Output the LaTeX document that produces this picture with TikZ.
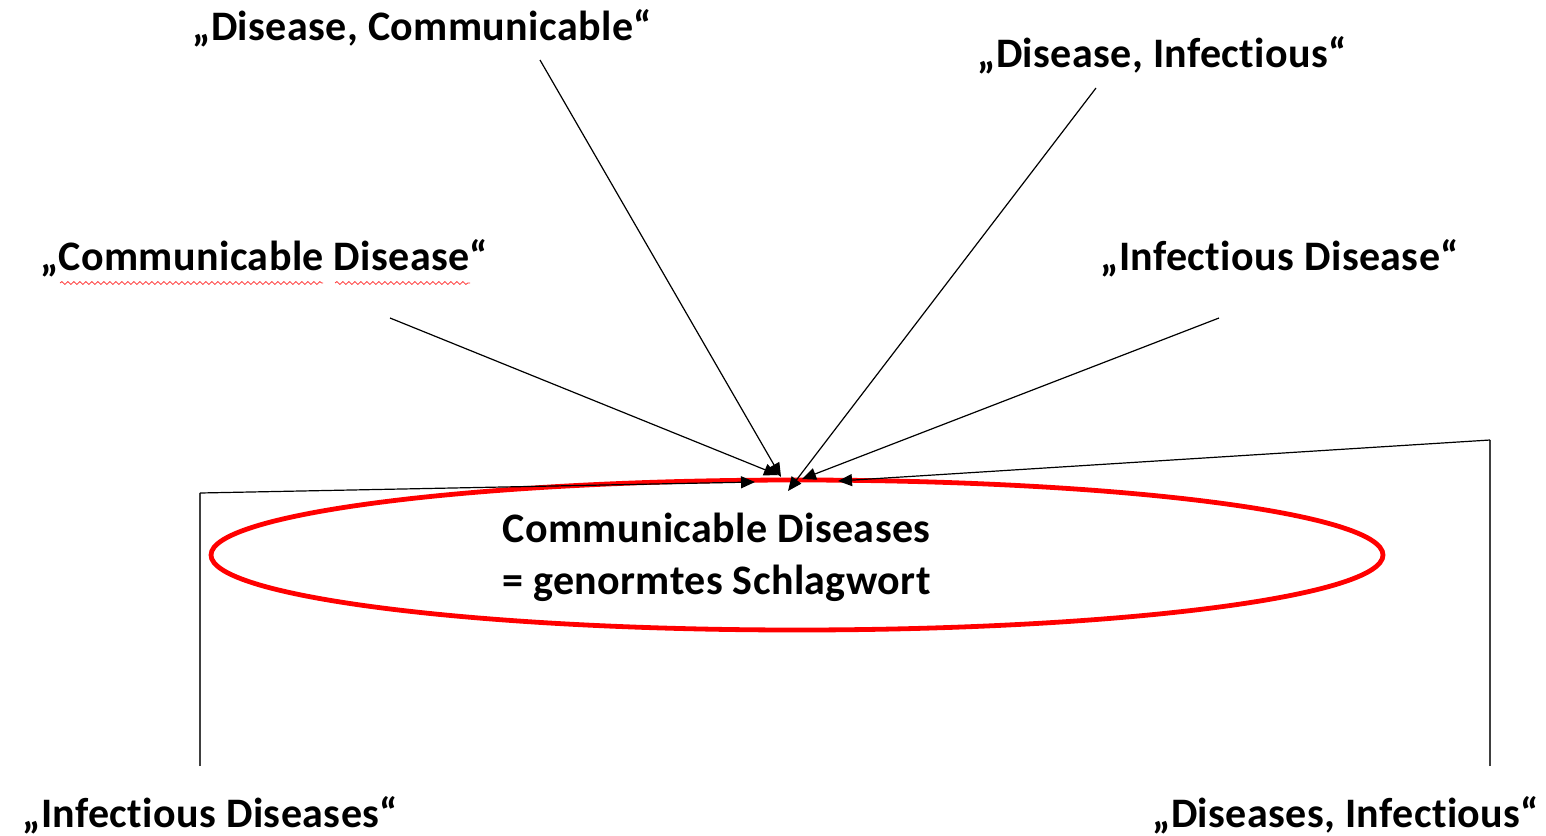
\documentclass[tikz,border=0pt]{standalone}
\usepackage{fontspec}
\setmainfont{Carlito}[Ligatures=NoCommon, LetterSpace=1]
\usetikzlibrary{arrows.meta,shapes.geometric,decorations.pathmorphing}
\begin{document}
\begin{tikzpicture}[x=0.5pt,y=-0.5pt,
  lbl/.style={font=\fontsize{21}{26}\selectfont\bfseries, inner sep=0pt, anchor=base west},
  conn/.style={draw=black, line width=0.6pt, -{Triangle[length=7pt,width=6pt]}},
  frame/.style={draw=black!75, line width=0.7pt},
  squig/.style={draw=red!80, line width=0.4pt, decorate, decoration={snake, amplitude=0.7pt, segment length=3pt}}]
\useasboundingbox (0,0) rectangle (1546,835);
% target ellipse
\node[ellipse, draw=red, line width=2.4pt, minimum width=586pt, minimum height=75pt, inner sep=0pt] (target) at (797,555) {};
\node[lbl, align=left] (tl1) at (502,542) {Communicable Diseases};
\node[lbl, align=left] (tl2) at (502,594) {= genormtes Schlagwort};
% labels
\node[lbl] (dc) at (192,40) {„Disease, Communicable“};
\node[lbl] (di) at (977,67) {„Disease, Infectious“};
\node[lbl] (cd) at (40,270) {„Communicable Disease“};
\node[lbl] (id) at (1100,270) {„Infectious Disease“};
\node[lbl] (ids) at (22,827) {„Infectious Diseases“};
\node[lbl] (dis) at (1152,827) {„Diseases, Infectious“};
% spell-check underline
\draw[squig] (60,283) -- (323,283);
\draw[squig] (335,283) -- (470,283);
% connector points
\coordinate (s1) at (540,60);   \coordinate (e1) at (781,477);
\coordinate (s2) at (1096,88);  \coordinate (e2) at (788,491);
\coordinate (s3) at (390,318);  \coordinate (e3) at (778,475);
\coordinate (s4) at (1219,318); \coordinate (e4) at (802,479);
\coordinate (l0) at (200,766);  \coordinate (l1) at (200,493); \coordinate (e5) at (755,482);
\coordinate (r0) at (1490,766); \coordinate (r1) at (1490,440); \coordinate (e6) at (838,481);
\draw[conn] (s1) -- (e1);
\draw[conn] (s2) -- (e2);
\draw[conn] (s3) -- (e3);
\draw[conn] (s4) -- (e4);
\draw[frame] (l0) -- (l1);
\draw[conn] (l1) -- (e5);
\draw[frame] (r0) -- (r1);
\draw[conn] (r1) -- (e6);
\end{tikzpicture}
\end{document}
